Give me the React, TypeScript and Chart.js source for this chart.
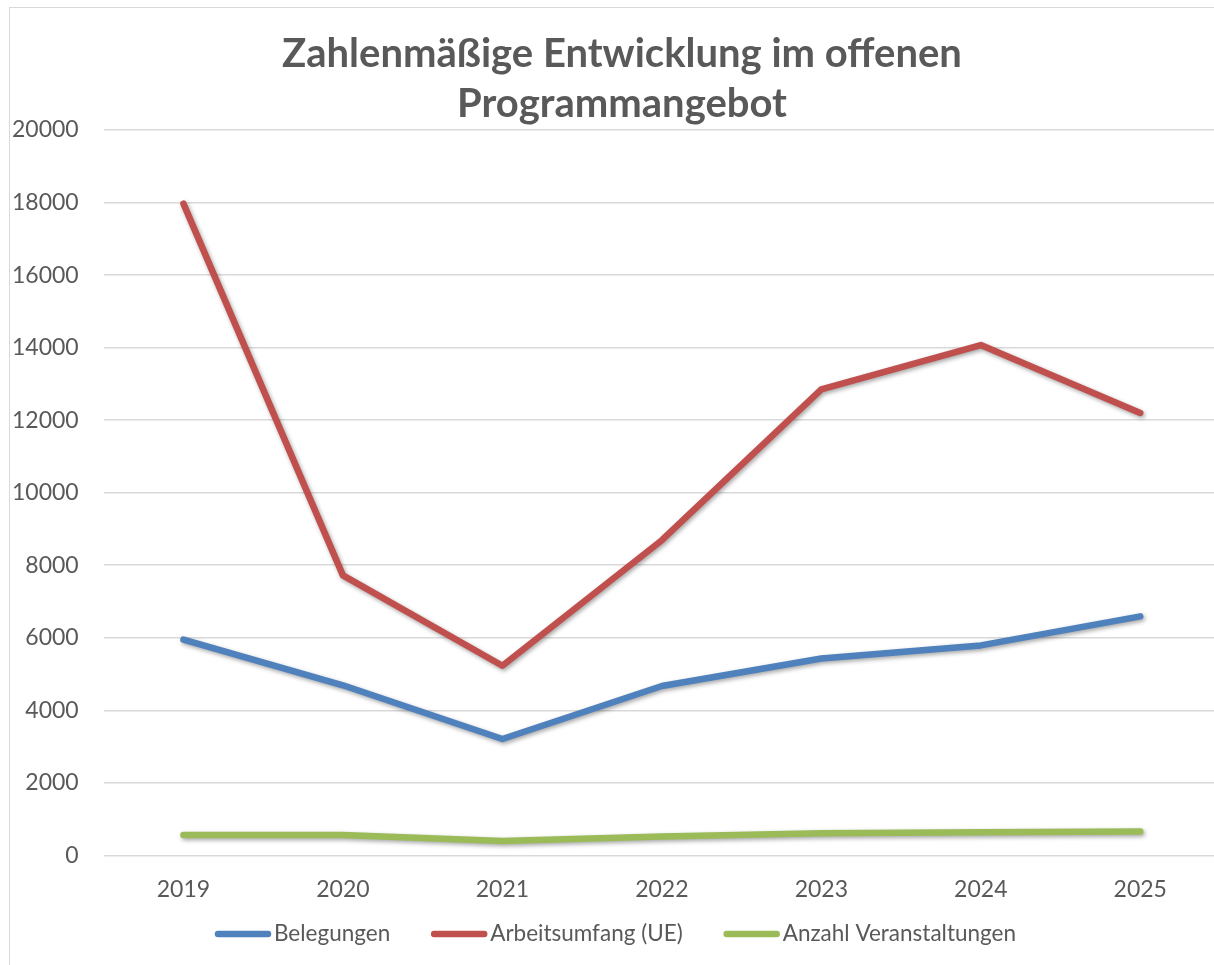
import React, { useEffect, useRef } from "react";
import { Chart, registerables } from "chart.js";

Chart.register(...registerables);

const years = ["2019", "2020", "2021", "2022", "2023", "2024", "2025"];
const belegungen = [5950, 4690, 3210, 4670, 5430, 5790, 6590];
const arbeitsumfang = [17970, 7720, 5230, 8690, 12850, 14070, 12200];
const veranstaltungen = [560, 560, 400, 520, 610, 640, 660];

const seriesNames = ["Belegungen", "Arbeitsumfang (UE)", "Anzahl Veranstaltungen"];
const seriesColors = ["#4F81BD", "#C0504D", "#9BBB59"];
const titleLines = ["Zahlenmäßige Entwicklung im offenen", "Programmangebot"];

const FONT = "Lato, 'Open Sans', sans-serif";
const TEXT = "#595959";
const CW = 1223;
const CH = 954;

const shadowPlugin = {
  id: "lineShadow",
  beforeDatasetDraw(chart: any) {
    const ctx = chart.ctx;
    ctx.save();
    ctx.shadowColor = "rgba(0,0,0,0.35)";
    ctx.shadowBlur = 4;
    ctx.shadowOffsetX = 1.5;
    ctx.shadowOffsetY = 2;
  },
  afterDatasetDraw(chart: any) {
    chart.ctx.restore();
  },
};

const titlePlugin = {
  id: "customTitle",
  afterDraw(chart: any) {
    const ctx = chart.ctx;
    ctx.save();
    ctx.font = `bold 40px ${FONT}`;
    ctx.fillStyle = TEXT;
    ctx.textAlign = "center";
    ctx.textBaseline = "middle";
    const cx = 612;
    titleLines.forEach((t, i) => ctx.fillText(t, cx, 46 + i * 50));
    ctx.restore();
  },
};

const legendPlugin = {
  id: "customLegend",
  afterDraw(chart: any) {
    const ctx = chart.ctx;
    const ds = chart.data.datasets;
    const lineW = 56;
    const gapText = 3;
    const gapItem = 41;
    ctx.save();
    ctx.font = `22.5px ${FONT}`;
    const widths = ds.map((d: any) => ctx.measureText(d.label).width);
    const total =
      widths.reduce((a: number, b: number) => a + b, 0) +
      ds.length * (lineW + gapText) +
      (ds.length - 1) * gapItem;
    let x = chart.width / 2 - 6 - total / 2;
    const y = 926;
    ds.forEach((d: any, i: number) => {
      ctx.strokeStyle = d.borderColor;
      ctx.lineWidth = 6.5;
      ctx.lineCap = "round";
      ctx.beginPath();
      ctx.moveTo(x + 3, y);
      ctx.lineTo(x + lineW - 3, y);
      ctx.stroke();
      x += lineW + gapText;
      ctx.fillStyle = TEXT;
      ctx.textBaseline = "middle";
      ctx.textAlign = "left";
      ctx.fillText(d.label, x, y);
      x += widths[i] + gapItem;
    });
    ctx.restore();
  },
};

export default function App() {
  const ref = useRef<HTMLCanvasElement | null>(null);
  useEffect(() => {
    document.body.style.overflow = "hidden";
    const seriesData = [belegungen, arbeitsumfang, veranstaltungen];
    const chart = new Chart(ref.current as HTMLCanvasElement, {
      type: "line",
      data: {
        labels: years,
        datasets: seriesData.map((d, i) => ({
          label: seriesNames[i],
          data: d,
          borderColor: seriesColors[i],
          backgroundColor: seriesColors[i],
          borderWidth: 6.5,
          borderCapStyle: "round",
          borderJoinStyle: "round",
          pointRadius: 0,
          pointHoverRadius: 0,
          tension: 0,
          fill: false,
        })),
      },
      options: {
        responsive: false,
        animation: false,
        layout: { padding: { left: -23, right: 13, top: 122, bottom: 39 } },
        plugins: {
          legend: { display: false },
          tooltip: { enabled: false },
          title: { display: false },
        },
        scales: {
          x: {
            offset: true,
            grid: { display: false, drawTicks: false },
            border: { display: false },
            ticks: { color: TEXT, font: { family: FONT, size: 23 }, padding: 20 },
          },
          y: {
            min: 0,
            max: 20000,
            grid: { color: "#d9d9d9", lineWidth: 1.5, drawTicks: false },
            border: { display: false },
            ticks: {
              stepSize: 2000,
              color: TEXT,
              font: { family: FONT, size: 23 },
              padding: 25,
              callback: (v: any) => String(v),
            },
          },
        },
      },
      plugins: [shadowPlugin, titlePlugin, legendPlugin],
    });
    return () => chart.destroy();
  }, []);
  return (
    <div
      style={{
        position: "fixed",
        left: 8,
        top: 7,
        width: 1206,
        height: 958,
        overflow: "hidden",
      }}
    >
      <div
        style={{
          width: CW + 2,
          height: CH + 20,
          border: "1px solid #d9d9d9",
          marginLeft: 1,
          boxSizing: "border-box",
          background: "#fff",
        }}
      >
        <canvas ref={ref} width={CW} height={CH} style={{ display: "block", width: CW, height: CH }} />
      </div>
    </div>
  );
}
